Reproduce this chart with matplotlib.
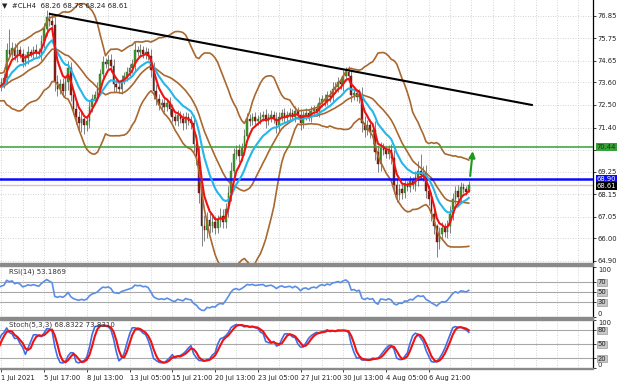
import numpy as np
import pandas as pd
import matplotlib
matplotlib.use("Agg")
import matplotlib.pyplot as plt
from matplotlib.patches import Rectangle

# --- data: H4 closes (pre-history only feeds the indicators, it is off-screen) ---
pre_close = [73.0, 73.3, 73.6, 73.9, 73.7, 73.2, 72.9, 73.1, 73.5, 73.8, 74.0, 73.6,
             73.2, 72.8, 73.0, 73.4, 73.7, 73.9, 73.5, 73.1, 72.9, 73.3, 73.6, 73.4]
pre_wick = [0.20, 0.25, 0.20, 0.30, 0.20, 0.25, 0.20, 0.20, 0.25, 0.30, 0.20, 0.25,
            0.20, 0.25, 0.30, 0.20, 0.20, 0.25, 0.20, 0.30, 0.25, 0.20, 0.25, 0.20]

close_vis = [
    73.6, 73.8, 75.2, 75.0, 75.3, 74.9, 75.2, 75.0, 74.6, 74.8, 75.1, 75.0, 75.2, 75.1, 75.0, 75.6,
    76.2, 76.8, 76.6, 76.4, 73.6, 73.3, 73.5, 73.2, 73.6, 74.3, 73.0, 72.3, 71.9, 71.6, 71.8, 71.5,
    71.7, 72.4, 72.8, 73.0, 73.3, 74.0, 74.6, 74.5, 74.7, 74.4, 73.5, 73.4, 73.3, 73.7, 73.9, 74.1,
    74.3, 74.5, 75.2, 75.1, 75.2, 75.0, 75.1, 74.9, 74.2, 73.2, 72.8, 72.5, 72.6, 72.4, 72.6, 72.3,
    71.9, 71.7, 72.0, 71.8, 71.6, 71.9, 71.7, 71.6, 70.6, 70.0, 68.2, 66.6, 66.4, 66.9, 66.6, 66.8,
    66.5, 66.9, 67.1, 66.8, 67.4, 68.2, 69.3, 70.1, 70.3, 70.0, 70.4, 71.0, 71.8, 71.7, 71.9, 71.7,
    71.8, 71.9, 72.0, 71.7, 71.9, 72.0, 71.8, 71.5, 71.9, 72.1, 71.9, 72.0, 72.1, 71.9, 72.2, 72.0,
    71.6, 72.0, 72.1, 71.9, 72.2, 72.3, 72.2, 72.6, 72.8, 72.7, 73.0, 72.9, 73.3, 73.4, 73.6, 73.5,
    73.9, 74.1, 73.9, 73.0, 73.1, 72.9, 73.0, 71.6, 71.3, 71.5, 71.2, 71.3, 70.2, 69.6, 70.4, 70.3,
    70.1, 70.3, 69.9, 68.6, 68.1, 68.4, 68.2, 68.6, 68.5, 68.8, 68.6, 69.0, 69.3, 69.1, 69.2, 68.3,
    67.9, 67.2, 66.6, 65.8, 66.2, 66.5, 66.3, 66.6, 67.2, 67.9, 68.3, 68.0, 68.5, 68.4, 68.26, 68.61,
]
wick_vis = [
    0.20, 0.25, 0.30, 0.45, 0.25, 0.20, 0.30, 0.20, 0.25, 0.20, 0.30, 0.15, 0.20, 0.25, 0.20, 0.30,
    0.30, 0.35, 0.25, 0.30, 0.40, 0.35, 0.25, 0.30, 0.25, 0.35, 0.30, 0.25, 0.35, 0.30, 0.40, 0.30,
    0.25, 0.30, 0.25, 0.20, 0.30, 0.25, 0.30, 0.20, 0.25, 0.30, 0.35, 0.25, 0.20, 0.25, 0.20, 0.25,
    0.20, 0.25, 0.35, 0.20, 0.25, 0.20, 0.25, 0.20, 0.35, 0.40, 0.30, 0.25, 0.20, 0.25, 0.20, 0.30,
    0.25, 0.20, 0.25, 0.20, 0.30, 0.25, 0.20, 0.25, 0.40, 0.45, 0.50, 0.60, 0.55, 0.40, 0.35, 0.30,
    0.30, 0.25, 0.35, 0.30, 0.30, 0.35, 0.40, 0.30, 0.25, 0.30, 0.25, 0.35, 0.30, 0.25, 0.20, 0.25,
    0.20, 0.25, 0.20, 0.30, 0.20, 0.25, 0.20, 0.35, 0.25, 0.20, 0.25, 0.20, 0.25, 0.20, 0.25, 0.20,
    0.30, 0.20, 0.25, 0.20, 0.25, 0.20, 0.25, 0.30, 0.20, 0.25, 0.20, 0.25, 0.30, 0.20, 0.25, 0.20,
    0.30, 0.25, 0.30, 0.35, 0.25, 0.20, 0.30, 0.40, 0.35, 0.25, 0.30, 0.25, 0.40, 0.35, 0.30, 0.25,
    0.20, 0.25, 0.30, 0.40, 0.35, 0.25, 0.30, 0.25, 0.20, 0.25, 0.20, 0.30, 0.45, 0.25, 0.30, 0.35,
    0.30, 0.35, 0.40, 0.45, 0.35, 0.30, 0.25, 0.30, 0.35, 0.30, 0.25, 0.30, 0.25, 0.20, 0.15, 0.17,
]
# bars with clearly visible long wicks: index -> (high, low)
hl_fix = {3: (76.2, 74.8), 31: (71.9, 71.1), 75: (68.4, 65.6), 139: (71.5, 70.6),
          157: (70.1, 68.9), 163: (66.7, 65.1), 175: (68.78, 68.24)}

date_pos = [0, 16, 32, 48, 64, 80, 96, 112, 128, 144, 160]
date_labels = ["1 Jul 2021", "5 Jul 17:00", "8 Jul 13:00", "13 Jul 05:00", "15 Jul 21:00",
               "20 Jul 13:00", "23 Jul 05:00", "27 Jul 21:00", "30 Jul 13:00",
               "4 Aug 05:00", "6 Aug 21:00"]
price_ticks = [76.85, 75.75, 74.65, 73.60, 72.50, 71.40, 70.30, 69.25, 68.15, 67.05, 66.00, 64.90]

trend_x = [18.2, 198.6]
trend_y = [76.94, 72.50]
green_level = 70.44
blue_level = 68.90
bid_level = 68.61
arrow_x = [175.4, 176.6]
arrow_y = [68.90, 70.38]

# --- OHLC + indicators ---
closes = pd.Series(pre_close + close_vis, dtype=float)
wicks = np.array(pre_wick + wick_vis)
npre = len(pre_close)
idx = np.arange(len(closes)) - npre
opens = closes.shift(1).fillna(closes.iloc[0])
highs = np.maximum(opens, closes) + wicks
lows = np.minimum(opens, closes) - wicks
for k, (h, l) in hl_fix.items():
    highs[k + npre] = h
    lows[k + npre] = l
highs = pd.Series(highs)
lows = pd.Series(lows)

mid = closes.rolling(20).mean()
sd = closes.rolling(20).std(ddof=0)
bb_up = mid + 2 * sd
bb_dn = mid - 2 * sd
ma_fast = closes.ewm(span=5, adjust=False).mean()
ma_slow = closes.ewm(span=13, adjust=False).mean()

delta = closes.diff()
gain = delta.clip(lower=0).ewm(alpha=1 / 14, adjust=False).mean()
loss = (-delta.clip(upper=0)).ewm(alpha=1 / 14, adjust=False).mean()
rsi = 100 - 100 / (1 + gain / loss)

ll = lows.rolling(5).min()
hh = highs.rolling(5).max()
st_k = 100 * (closes - ll).rolling(3).sum() / (hh - ll).rolling(3).sum()
st_d = st_k.rolling(3).mean()

# --- figure ---
W, H = 620, 383
fig = plt.figure(figsize=(W / 100, H / 100), dpi=100)
fig.patch.set_facecolor("white")
FS = 4.9


def box(x0, y0, x1, y1):
    return [x0 / W, 1 - y1 / H, (x1 - x0) / W, (y1 - y0) / H]


ax = fig.add_axes(box(0, 0, 593, 263))
ax_rsi = fig.add_axes(box(0, 266, 593, 318))
ax_st = fig.add_axes(box(0, 320, 593, 368))

xlim = (-0.5, 221.5)
grid_kw = dict(color="#c4c4c4", linestyle=(0, (1, 2)), linewidth=0.6, zorder=0)
for a in (ax, ax_rsi, ax_st):
    a.set_xlim(*xlim)
    for s in a.spines.values():
        s.set_visible(False)
    a.spines["right"].set_visible(True)
    a.spines["right"].set_linewidth(0.9)
    for gx in range(0, 222, 8):
        a.axvline(gx, **grid_kw)
    a.yaxis.tick_right()
    a.tick_params(axis="y", labelsize=FS, length=2, width=0.6, pad=1.5, colors="#222222")
    a.set_xticks([])

# main price panel
ax.set_ylim(64.79, 77.62)
for p in price_ticks:
    ax.axhline(p, **grid_kw)
ax.set_yticks(price_ticks)
ax.set_yticklabels(["" if p == 70.30 else f"{p:.2f}" for p in price_ticks])

vis = idx >= 0
x = idx[vis]
o, c = opens[vis].values, closes[vis].values
hi, lo = highs[vis].values, lows[vis].values
ax.vlines(x, lo, hi, color="#505050", linewidth=0.5, zorder=2)
bull = c >= o
body = np.maximum(np.abs(c - o), 0.04)
ax.bar(x[bull], body[bull], bottom=np.minimum(o, c)[bull], width=0.6,
       color="#3d9a2c", edgecolor="#2a6a20", linewidth=0.3, zorder=3)
ax.bar(x[~bull], body[~bull], bottom=np.minimum(o, c)[~bull], width=0.6,
       color="#8c1f1a", edgecolor="#5a1410", linewidth=0.3, zorder=3)

brown = "#a8682f"
for band in (bb_up, mid, bb_dn):
    ax.plot(idx, band, color=brown, linewidth=1.2, zorder=4)
ax.plot(idx, ma_slow, color="#25b6ea", linewidth=1.5, zorder=5)
ax.plot(idx, ma_fast, color="#f01212", linewidth=1.5, zorder=6)

ax.axhline(green_level, color="#35a035", linewidth=1.1, zorder=4)
ax.axhline(bid_level, color="#c8c8c8", linewidth=1.0, zorder=1)
ax.axhline(blue_level, color="#0a0aff", linewidth=1.8, zorder=4)
ax.plot(trend_x, trend_y, color="black", linewidth=1.5, zorder=7)
ax.annotate("", xy=(arrow_x[1], arrow_y[1]), xytext=(arrow_x[0], arrow_y[0]),
            arrowprops=dict(arrowstyle="-|>", color="#1f9a1f", lw=1.5, mutation_scale=9),
            zorder=8)

lab_kw = dict(xycoords=("axes fraction", "data"), fontsize=FS, va="center", ha="left",
              annotation_clip=False, zorder=10)
ax.annotate(f"{green_level:.2f}", xy=(1.006, green_level), color="#0b3d0b",
            bbox=dict(boxstyle="square,pad=0.15", fc="#3aa03a", ec="none"), **lab_kw)
ax.annotate(f"{blue_level:.2f}", xy=(1.006, blue_level), color="white",
            bbox=dict(boxstyle="square,pad=0.15", fc="#0a0aff", ec="none"), **lab_kw)
ax.annotate(f"{bid_level:.2f}", xy=(1.006, bid_level - 0.06), color="white",
            bbox=dict(boxstyle="square,pad=0.15", fc="black", ec="none"), **lab_kw)

fig.text(2 / W, 1 - 5 / H, "\u25bc  #CLH4  68.26 68.78 68.24 68.61", fontsize=5.0,
         va="center", ha="left", color="#222222")

# RSI panel
ax_rsi.set_ylim(-2, 102)
for lv in (30, 50, 70):
    ax_rsi.axhline(lv, color="#a8a8a8", linewidth=0.8, zorder=1)
ax_rsi.plot(idx, rsi, color="#5b8ee6", linewidth=1.2, zorder=3)
ax_rsi.set_yticks([0, 30, 50, 70, 100])
ax_rsi.set_yticklabels(["0", "30", "50", "70", "100"])
ax_rsi.text(3, 91, "RSI(14) 53.1869", fontsize=5.0, color="#333333", va="center")

# Stochastic panel
ax_st.set_ylim(-1, 101)
for lv in (20, 50, 80):
    ax_st.axhline(lv, color="#a8a8a8", linewidth=0.8, zorder=1)
ax_st.plot(idx, st_k, color="#3f6fe6", linewidth=1.2, zorder=3)
ax_st.plot(idx, st_d, color="#f01212", linewidth=1.5, zorder=4)
ax_st.set_yticks([0, 20, 50, 80, 100])
ax_st.set_yticklabels(["0", "20", "50", "80", "100"])
ax_st.text(3, 90, "Stoch(5,3,3) 68.8322 73.8310", fontsize=5.0, color="#333333",
           va="center", zorder=6)

for a, lvls in ((ax_rsi, ("30", "50", "70")), (ax_st, ("20", "50", "80"))):
    for t in a.get_yticklabels():
        if t.get_text() in lvls:
            t.set_bbox(dict(boxstyle="square,pad=0.1", fc="#c8c8c8", ec="#888888", lw=0.4))
        elif t.get_text() == "0":
            t.set_va("bottom")
        elif t.get_text() == "100":
            t.set_va("top")

# date labels under the bottom panel
ax_st.set_xticks(date_pos)
ax_st.set_xticklabels(date_labels, ha="left")
ax_st.tick_params(axis="x", labelsize=FS, length=3, width=0.6, pad=2, colors="#222222")

# panel separators
for y0, y1 in ((263, 266), (317, 320)):
    fig.patches.append(Rectangle((0, 1 - y1 / H), 593 / W, (y1 - y0) / H,
                                 transform=fig.transFigure, color="#8a8a8a", zorder=20))
fig.patches.append(Rectangle((0, 1 - 369 / H), 593 / W, 1 / H,
                             transform=fig.transFigure, color="#8a8a8a", zorder=20))

fig.savefig("out.png", dpi=100)
